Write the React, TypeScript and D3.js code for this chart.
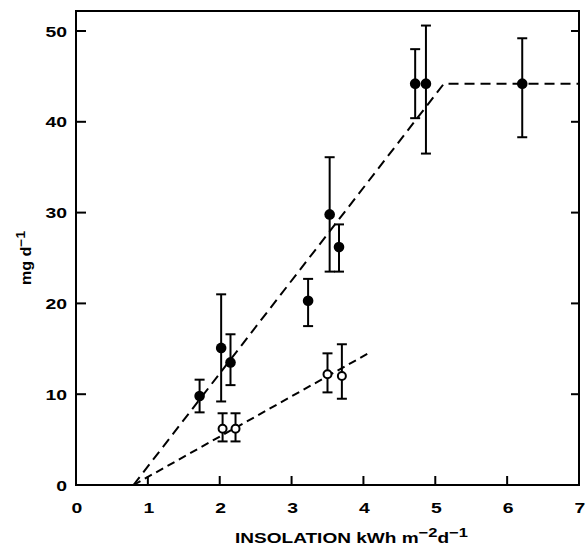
import React from "react";
import * as d3 from "d3";

const xTicks = [0, 1, 2, 3, 4, 5, 6, 7];
const yTicks = [0, 10, 20, 30, 40, 50];

// filled points: x, y, low, high
const filledX = [1.72, 2.02, 2.15, 3.23, 3.53, 3.66, 4.72, 4.87, 6.21];
const filledY = [9.8, 15.1, 13.5, 20.3, 29.8, 26.2, 44.2, 44.2, 44.2];
const filledLo = [8.0, 9.2, 11.0, 17.5, 23.5, 23.5, 40.4, 36.5, 38.3];
const filledHi = [11.6, 21.0, 16.6, 22.7, 36.1, 28.7, 48.0, 50.6, 49.2];

// open points
const openX = [2.04, 2.22, 3.5, 3.7];
const openY = [6.2, 6.2, 12.2, 12.0];
const openLo = [4.8, 4.8, 10.2, 9.5];
const openHi = [7.9, 7.9, 14.5, 15.5];

// fitted lines
const steepLine: [number, number][] = [[0.8, 0], [5.12, 44.2], [7, 44.2]];
const shallowLine: [number, number][] = [[0.8, 0], [4.09, 14.6]];

const W = 586, H = 548;
const left = 76, right = 579, bottom = 485, top = 11;

export default function App() {
  const x = d3.scaleLinear().domain([0, 7]).range([left, right]);
  const y = d3.scaleLinear().domain([0, 50]).range([bottom, 31]);
  const line = d3.line<[number, number]>().x(d => x(d[0])).y(d => y(d[1]));
  const font = "'Liberation Sans', Arial, sans-serif";
  const cap = 5;
  const sx = 1.25;

  const errBar = (px: number, lo: number, hi: number, key: string) => (
    <g key={key} stroke="#000" strokeWidth={2}>
      <line x1={x(px)} x2={x(px)} y1={y(lo)} y2={y(hi)} />
      <line x1={x(px) - cap} x2={x(px) + cap} y1={y(lo)} y2={y(lo)} />
      <line x1={x(px) - cap} x2={x(px) + cap} y1={y(hi)} y2={y(hi)} />
    </g>
  );

  return (
    <svg width={W} height={H} style={{ position: "absolute", left: 0, top: 0, background: "#fff" }}>
      <rect x={0} y={0} width={W} height={H} fill="#fff" />
      {/* frame */}
      <rect x={left} y={top} width={right - left} height={bottom - top} fill="none" stroke="#000" strokeWidth={2} />
      {/* x ticks */}
      {xTicks.map(t => (
        <g key={"xt" + t}>
          {t > 0 && t < 7 && <line x1={x(t)} x2={x(t)} y1={bottom} y2={bottom - 9} stroke="#000" strokeWidth={2} />}
          <text transform={`translate(${x(t) + 1},513) scale(${sx},1)`} textAnchor="middle" fontFamily={font} fontWeight="bold" fontSize={15.5}>{t}</text>
        </g>
      ))}
      {/* y ticks */}
      {yTicks.map(t => (
        <g key={"yt" + t}>
          {t > 0 && <line x1={left} x2={left + 10} y1={y(t)} y2={y(t)} stroke="#000" strokeWidth={2} />}
          {t > 0 && <line x1={right} x2={right - 8} y1={y(t)} y2={y(t)} stroke="#000" strokeWidth={2} />}
          <text transform={`translate(67,${y(t) + 5.5}) scale(${sx},1)`} textAnchor="end" fontFamily={font} fontWeight="bold" fontSize={15.5}>{t}</text>
        </g>
      ))}
      {/* lines */}
      <path d={line(steepLine) || ""} fill="none" stroke="#000" strokeWidth={2} strokeDasharray="10,6" />
      <path d={line(shallowLine) || ""} fill="none" stroke="#000" strokeWidth={2} strokeDasharray="8,5" />
      {/* error bars */}
      {filledX.map((v, i) => errBar(v, filledLo[i], filledHi[i], "fe" + i))}
      {openX.map((v, i) => errBar(v, openLo[i], openHi[i], "oe" + i))}
      {/* markers */}
      {filledX.map((v, i) => (
        <circle key={"f" + i} cx={x(v)} cy={y(filledY[i])} r={5.3} fill="#000" />
      ))}
      {openX.map((v, i) => (
        <circle key={"o" + i} cx={x(v)} cy={y(openY[i])} r={4} fill="#fff" stroke="#000" strokeWidth={2} />
      ))}
      {/* axis titles */}
      <text transform="translate(235,543) scale(1.27,1)" fontFamily={font} fontWeight="bold" fontSize={15}>
        INSOLATION kWh m<tspan dy={-6} fontSize={13}>−2</tspan><tspan dy={6}>d</tspan><tspan dy={-6} fontSize={13}>−1</tspan>
      </text>
      <text transform="translate(31,258) rotate(-90) scale(1.15,1)" textAnchor="middle" fontFamily={font} fontWeight="bold" fontSize={14}>
        mg d<tspan dy={-6} fontSize={12}>−1</tspan>
      </text>
    </svg>
  );
}
